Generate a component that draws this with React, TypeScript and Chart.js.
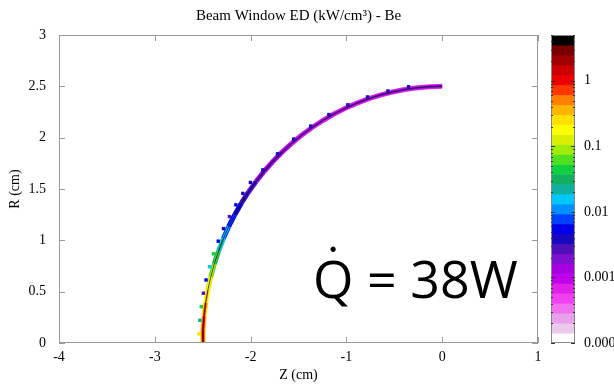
import React, { useEffect, useRef } from "react";
import { Chart, registerables } from "chart.js";

Chart.register(...registerables);

// Window profile: axial position Z and radius R (cm) along the beam window
const zArc = [-2.5, -2.497, -2.486, -2.469, -2.445, -2.415, -2.378, -2.334, -2.284, -2.228, -2.165, -2.097, -2.023, -1.943, -1.858, -1.768, -1.673, -1.573, -1.469, -1.362, -1.25, -1.135, -1.017, -0.896, -0.773, -0.647, -0.52, -0.391, -0.261, -0.131, 0];
const rArc = [0, 0.131, 0.261, 0.391, 0.52, 0.647, 0.773, 0.896, 1.017, 1.135, 1.25, 1.362, 1.469, 1.573, 1.673, 1.768, 1.858, 1.943, 2.023, 2.097, 2.165, 2.228, 2.284, 2.334, 2.378, 2.415, 2.445, 2.469, 2.486, 2.497, 2.5];

// Energy deposition (kW/cm^3) in the window core and on its surfaces
const edCore = [2.0, 1.5, 1.0, 0.5, 0.3, 0.15, 0.08, 0.04, 0.02, 0.012, 0.007, 0.005, 0.004, 0.0035, 0.003, 0.0025, 0.0022, 0.002, 0.002, 0.002, 0.002, 0.0019, 0.0019, 0.0018, 0.0018, 0.0018, 0.0017, 0.0017, 0.0017, 0.0017, 0.0017];
const edSurface = [0.4, 0.35, 0.3, 0.25, 0.15, 0.08, 0.04, 0.02, 0.01, 0.006, 0.004, 0.003, 0.002, 0.0015, 0.0012, 0.001, 0.0009, 0.0008, 0.0008, 0.0008, 0.0008, 0.0008, 0.0008, 0.0008, 0.0007, 0.0007, 0.0007, 0.0007, 0.0007, 0.0007, 0.0007];

// Individual mesh cells on the outer face
const zCell = [-2.538, -2.53, -2.515, -2.493, -2.465, -2.429, -2.387, -2.338, -2.283, -2.221, -2.154, -2.081, -2.002, -1.873, -1.719, -1.551, -1.372, -1.183, -0.985, -0.779, -0.567, -0.351];
const rCell = [0.089, 0.221, 0.354, 0.485, 0.614, 0.743, 0.869, 0.992, 1.114, 1.231, 1.346, 1.457, 1.564, 1.686, 1.843, 1.986, 2.113, 2.225, 2.32, 2.397, 2.455, 2.496];
const edCell = [0.3, 0.02, 0.05, 0.003, 0.006, 0.015, 0.05, 0.005, 0.004, 0.003, 0.005, 0.0045, 0.004, 0.004, 0.004, 0.004, 0.004, 0.004, 0.004, 0.004, 0.004, 0.004];

// Colour scale
const cbTickValues = [0.0001, 0.001, 0.01, 0.1, 1];
const cbTickLabels = ["0.0001", "0.001", "0.01", "0.1", "1"];
const CB_MIN = 0.0001;
const CB_MAX = 5;
const PALETTE = [
  "#ffffff", "#ecc8ec", "#e8a0e8", "#f070f0", "#f040f0", "#e020e8", "#c000e8", "#a800e0",
  "#8010d0", "#5010b8", "#1808c0", "#0000e8", "#0040ff", "#0090ff", "#00c8ff", "#10b0a0",
  "#10b060", "#10d040", "#50e020", "#a0ec00", "#d8f000", "#ffff00", "#ffe000", "#ffb400",
  "#ff8000", "#ff3800", "#ee0000", "#cc0000", "#a00000", "#780000", "#000000",
];

const SERIF = '"Liberation Serif", "Times New Roman", serif';
const FRAME = "#9a9a9a";

function edColor(v: number): string {
  const step = Math.log10(CB_MAX / CB_MIN) / PALETTE.length;
  let i = Math.floor(Math.log10(v / CB_MIN) / step);
  if (i < 0) i = 0;
  if (i > PALETTE.length - 1) i = PALETTE.length - 1;
  return PALETTE[i];
}

const framePlugin = {
  id: "frameAndColorbar",
  afterDraw(chart: any) {
    const { ctx, chartArea: a, scales } = chart;
    ctx.save();
    ctx.strokeStyle = FRAME;
    ctx.lineWidth = 1;
    ctx.strokeRect(a.left + 0.5, a.top + 0.5, a.right - a.left - 1, a.bottom - a.top - 1);

    // inward tick marks on all four sides
    ctx.beginPath();
    for (const t of scales.x.ticks) {
      const px = Math.round(scales.x.getPixelForValue(t.value)) + 0.5;
      ctx.moveTo(px, a.bottom);
      ctx.lineTo(px, a.bottom - 6);
      ctx.moveTo(px, a.top);
      ctx.lineTo(px, a.top + 6);
    }
    for (const t of scales.y.ticks) {
      const py = Math.round(scales.y.getPixelForValue(t.value)) + 0.5;
      ctx.moveTo(a.left, py);
      ctx.lineTo(a.left + 6, py);
      ctx.moveTo(a.right, py);
      ctx.lineTo(a.right - 6, py);
    }
    ctx.stroke();

    // colour bar
    const cb = scales.cb;
    const x0 = a.right + 13;
    const w = 24;
    const n = PALETTE.length;
    const lMin = Math.log10(CB_MIN);
    const step = (Math.log10(CB_MAX) - lMin) / n;
    for (let i = 0; i < n; i++) {
      const yLo = cb.getPixelForValue(Math.pow(10, lMin + i * step));
      const yHi = cb.getPixelForValue(Math.pow(10, lMin + (i + 1) * step));
      ctx.fillStyle = PALETTE[i];
      ctx.fillRect(x0, yHi, w, yLo - yHi + 0.5);
    }
    ctx.strokeStyle = "#8a8a8a";
    ctx.strokeRect(x0 + 0.5, cb.top + 0.5, w - 1, cb.bottom - cb.top - 1);
    ctx.strokeStyle = "#333";
    ctx.beginPath();
    for (let d = -4; d <= 0; d++) {
      for (let m = 1; m <= 9; m++) {
        const v = m * Math.pow(10, d);
        if (v > CB_MAX) break;
        const py = Math.round(cb.getPixelForValue(v)) + 0.5;
        const len = m === 1 ? 4 : 2;
        ctx.moveTo(x0, py);
        ctx.lineTo(x0 + len, py);
        ctx.moveTo(x0 + w, py);
        ctx.lineTo(x0 + w - len, py);
      }
    }
    ctx.stroke();
    ctx.restore();
  },
};

// Heat load annotation: Q with a dot accent, then "= 38W"
const heatLabelPlugin = {
  id: "heatLabel",
  afterDraw(chart: any) {
    const { ctx } = chart;
    const x = 313;
    const base = 298;
    ctx.save();
    ctx.fillStyle = "#000";
    ctx.font = '52px "Open Sans", sans-serif';
    ctx.textBaseline = "alphabetic";
    ctx.textAlign = "left";
    ctx.fillText("Q = 38W", x, base);
    const qw = ctx.measureText("Q").width;
    ctx.textAlign = "center";
    ctx.fillText("\u02D9", x + qw / 2, base - 14);
    ctx.restore();
  },
};

const trimNum = (v: any) => String(Math.round(Number(v) * 100) / 100);

export default function App() {
  const canvasRef = useRef<HTMLCanvasElement | null>(null);

  useEffect(() => {
    document.body.style.margin = "0";
    const canvas = canvasRef.current;
    if (!canvas) return;

    const arcPoints = zArc.map((z, i) => ({ x: z, y: rArc[i] }));
    const cellPoints = zCell.map((z, i) => ({ x: z, y: rCell[i] }));
    const segColor = (vals: number[]) => (c: any) =>
      edColor(Math.sqrt(vals[c.p0DataIndex] * vals[c.p1DataIndex]));

    const chart = new Chart(canvas, {
      type: "scatter",
      data: {
        datasets: [
          {
            label: "mid-plane",
            data: arcPoints,
            showLine: true,
            borderWidth: 1,
            borderColor: "rgba(30,0,40,0.75)",
            pointRadius: 0,
          },
          {
            label: "cells",
            data: cellPoints,
            showLine: false,
            pointStyle: "rect",
            pointRadius: 2.4,
            pointBorderWidth: 0,
            pointBackgroundColor: edCell.map(edColor),
          },
          {
            label: "core",
            data: arcPoints,
            showLine: true,
            borderWidth: 2.5,
            pointRadius: 0,
            borderColor: edColor(edCore[0]),
            segment: { borderColor: segColor(edCore) },
          },
          {
            label: "surface",
            data: arcPoints,
            showLine: true,
            borderWidth: 5,
            pointRadius: 0,
            borderColor: edColor(edSurface[0]),
            segment: { borderColor: segColor(edSurface) },
          },
        ] as any,
      },
      options: {
        animation: false,
        responsive: false,
        devicePixelRatio: 1,
        layout: { padding: 0 },
        plugins: {
          legend: { display: false },
          tooltip: { enabled: false },
          title: {
            display: true,
            fullSize: false,
            text: "Beam Window ED (kW/cm\u00B3) - Be",
            color: "#000",
            font: { family: SERIF, size: 15, weight: "normal" },
            padding: { top: 7, bottom: 10 },
          },
        },
        scales: {
          x: {
            type: "linear",
            min: -4,
            max: 1,
            grid: { display: false, drawTicks: false },
            border: { display: false },
            ticks: {
              stepSize: 1,
              color: "#000",
              padding: 6,
              maxRotation: 0,
              font: { family: SERIF, size: 14 },
              callback: trimNum,
            },
            title: {
              display: true,
              text: "Z (cm)",
              color: "#000",
              font: { family: SERIF, size: 14 },
              padding: { top: 0, bottom: 1 },
            },
            afterFit: (s: any) => {
              s.height = 42;
              s.paddingLeft = 0;
              s.paddingRight = 0;
            },
          },
          y: {
            type: "linear",
            min: 0,
            max: 3,
            grid: { display: false, drawTicks: false },
            border: { display: false },
            ticks: {
              stepSize: 0.5,
              color: "#000",
              padding: 13,
              font: { family: SERIF, size: 14 },
              callback: trimNum,
            },
            title: {
              display: true,
              text: "R (cm)",
              color: "#000",
              font: { family: SERIF, size: 14 },
              padding: { top: 7, bottom: 0 },
            },
            afterFit: (s: any) => {
              s.width = 59;
              s.paddingTop = 0;
              s.paddingBottom = 0;
            },
          },
          cb: {
            type: "logarithmic",
            position: "right",
            min: CB_MIN,
            max: CB_MAX,
            grid: { display: false, drawTicks: false },
            border: { display: false },
            ticks: {
              autoSkip: false,
              padding: 46,
              color: "#000",
              font: { family: SERIF, size: 14 },
              callback: (_v: any, i: number) => cbTickLabels[i],
            },
            afterBuildTicks: (s: any) => {
              s.ticks = cbTickValues.map((v) => ({ value: v }));
            },
            afterFit: (s: any) => {
              s.width = 102;
              s.paddingTop = 0;
              s.paddingBottom = 0;
            },
          },
        } as any,
      },
      plugins: [framePlugin, heatLabelPlugin],
    });

    return () => chart.destroy();
  }, []);

  return (
    <div style={{ width: 614, height: 385, overflow: "hidden", position: "relative" }}>
      <canvas ref={canvasRef} width={640} height={385} style={{ display: "block", width: 640, height: 385 }} />
    </div>
  );
}
